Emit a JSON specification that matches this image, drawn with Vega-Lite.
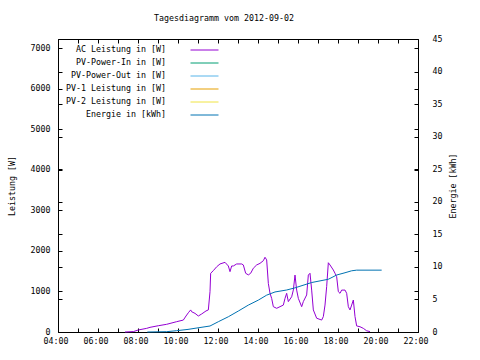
{
  "$schema": "https://vega.github.io/schema/vega-lite/v6.json",
  "width": 360,
  "height": 293,
  "autosize": {"type": "none"},
  "padding": {"left": 58, "top": 39, "right": 62, "bottom": 28},
  "background": "white",
  "title": {"text": "Tagesdiagramm vom 2012-09-02", "font": "DejaVu Sans Mono", "fontSize": 8.3, "fontWeight": "normal", "color": "black", "anchor": "middle", "dx": -14, "offset": 12},
  "config": {
    "font": "DejaVu Sans Mono",
    "view": {"stroke": "black", "strokeWidth": 1},
    "axis": {"domain": false, "tickColor": "black", "labelColor": "black", "titleColor": "black", "labelFont": "DejaVu Sans Mono", "titleFont": "DejaVu Sans Mono", "labelFontSize": 8.3, "titleFontSize": 8.3, "titleFontWeight": "normal", "grid": false, "tickSize": -4, "tickWidth": 1}
  },
  "datasets": {
    "power": [
      {"time": "2012-09-02T07:21", "watt": 0},
      {"time": "2012-09-02T07:46", "watt": 10},
      {"time": "2012-09-02T08:01", "watt": 50},
      {"time": "2012-09-02T08:26", "watt": 90},
      {"time": "2012-09-02T08:36", "watt": 115},
      {"time": "2012-09-02T09:01", "watt": 155},
      {"time": "2012-09-02T09:26", "watt": 190},
      {"time": "2012-09-02T09:56", "watt": 255},
      {"time": "2012-09-02T10:16", "watt": 295},
      {"time": "2012-09-02T10:24", "watt": 395},
      {"time": "2012-09-02T10:31", "watt": 475},
      {"time": "2012-09-02T10:38", "watt": 545},
      {"time": "2012-09-02T10:41", "watt": 500},
      {"time": "2012-09-02T10:51", "watt": 460},
      {"time": "2012-09-02T11:01", "watt": 395},
      {"time": "2012-09-02T11:11", "watt": 445},
      {"time": "2012-09-02T11:24", "watt": 520},
      {"time": "2012-09-02T11:31", "watt": 545},
      {"time": "2012-09-02T11:36", "watt": 995},
      {"time": "2012-09-02T11:38", "watt": 1450},
      {"time": "2012-09-02T11:46", "watt": 1515},
      {"time": "2012-09-02T11:56", "watt": 1610},
      {"time": "2012-09-02T12:06", "watt": 1680},
      {"time": "2012-09-02T12:21", "watt": 1720},
      {"time": "2012-09-02T12:31", "watt": 1630},
      {"time": "2012-09-02T12:36", "watt": 1490},
      {"time": "2012-09-02T12:41", "watt": 1630},
      {"time": "2012-09-02T12:46", "watt": 1630},
      {"time": "2012-09-02T12:56", "watt": 1680},
      {"time": "2012-09-02T13:11", "watt": 1680},
      {"time": "2012-09-02T13:16", "watt": 1655},
      {"time": "2012-09-02T13:23", "watt": 1450},
      {"time": "2012-09-02T13:31", "watt": 1410},
      {"time": "2012-09-02T13:38", "watt": 1450},
      {"time": "2012-09-02T13:46", "watt": 1575},
      {"time": "2012-09-02T13:56", "watt": 1655},
      {"time": "2012-09-02T14:06", "watt": 1695},
      {"time": "2012-09-02T14:16", "watt": 1760},
      {"time": "2012-09-02T14:21", "watt": 1845},
      {"time": "2012-09-02T14:26", "watt": 1780},
      {"time": "2012-09-02T14:31", "watt": 1200},
      {"time": "2012-09-02T14:36", "watt": 955},
      {"time": "2012-09-02T14:41", "watt": 830},
      {"time": "2012-09-02T14:46", "watt": 625},
      {"time": "2012-09-02T14:56", "watt": 585},
      {"time": "2012-09-02T15:06", "watt": 625},
      {"time": "2012-09-02T15:16", "watt": 665},
      {"time": "2012-09-02T15:21", "watt": 830},
      {"time": "2012-09-02T15:26", "watt": 955},
      {"time": "2012-09-02T15:31", "watt": 750},
      {"time": "2012-09-02T15:41", "watt": 870},
      {"time": "2012-09-02T15:46", "watt": 1035},
      {"time": "2012-09-02T15:51", "watt": 1405},
      {"time": "2012-09-02T15:56", "watt": 1035},
      {"time": "2012-09-02T16:01", "watt": 830},
      {"time": "2012-09-02T16:11", "watt": 625},
      {"time": "2012-09-02T16:16", "watt": 750},
      {"time": "2012-09-02T16:26", "watt": 915},
      {"time": "2012-09-02T16:31", "watt": 1405},
      {"time": "2012-09-02T16:36", "watt": 1450},
      {"time": "2012-09-02T16:41", "watt": 1035},
      {"time": "2012-09-02T16:46", "watt": 545},
      {"time": "2012-09-02T16:56", "watt": 340},
      {"time": "2012-09-02T17:11", "watt": 295},
      {"time": "2012-09-02T17:16", "watt": 380},
      {"time": "2012-09-02T17:21", "watt": 665},
      {"time": "2012-09-02T17:26", "watt": 1120},
      {"time": "2012-09-02T17:31", "watt": 1710},
      {"time": "2012-09-02T17:36", "watt": 1655},
      {"time": "2012-09-02T17:46", "watt": 1530},
      {"time": "2012-09-02T17:51", "watt": 1450},
      {"time": "2012-09-02T17:56", "watt": 1365},
      {"time": "2012-09-02T18:01", "watt": 995},
      {"time": "2012-09-02T18:06", "watt": 955},
      {"time": "2012-09-02T18:11", "watt": 1035},
      {"time": "2012-09-02T18:21", "watt": 1035},
      {"time": "2012-09-02T18:26", "watt": 955},
      {"time": "2012-09-02T18:31", "watt": 625},
      {"time": "2012-09-02T18:36", "watt": 545},
      {"time": "2012-09-02T18:41", "watt": 665},
      {"time": "2012-09-02T18:46", "watt": 790},
      {"time": "2012-09-02T18:51", "watt": 380},
      {"time": "2012-09-02T18:56", "watt": 150},
      {"time": "2012-09-02T19:06", "watt": 130},
      {"time": "2012-09-02T19:16", "watt": 90},
      {"time": "2012-09-02T19:26", "watt": 30},
      {"time": "2012-09-02T19:36", "watt": 10}
    ],
    "energy": [
      {"time": "2012-09-02T08:28", "kwh": 0},
      {"time": "2012-09-02T09:26", "kwh": 0.05},
      {"time": "2012-09-02T09:56", "kwh": 0.2},
      {"time": "2012-09-02T10:30", "kwh": 0.4},
      {"time": "2012-09-02T10:51", "kwh": 0.57},
      {"time": "2012-09-02T11:36", "kwh": 0.92},
      {"time": "2012-09-02T12:01", "kwh": 1.58},
      {"time": "2012-09-02T12:31", "kwh": 2.34},
      {"time": "2012-09-02T13:01", "kwh": 3.22},
      {"time": "2012-09-02T13:31", "kwh": 4.13},
      {"time": "2012-09-02T14:01", "kwh": 4.9},
      {"time": "2012-09-02T14:26", "kwh": 5.66},
      {"time": "2012-09-02T14:51", "kwh": 6.15},
      {"time": "2012-09-02T15:26", "kwh": 6.45},
      {"time": "2012-09-02T15:51", "kwh": 6.78},
      {"time": "2012-09-02T16:41", "kwh": 7.6},
      {"time": "2012-09-02T17:06", "kwh": 7.85},
      {"time": "2012-09-02T17:31", "kwh": 8.1},
      {"time": "2012-09-02T17:56", "kwh": 8.75},
      {"time": "2012-09-02T18:21", "kwh": 9.1},
      {"time": "2012-09-02T18:41", "kwh": 9.4},
      {"time": "2012-09-02T18:56", "kwh": 9.5},
      {"time": "2012-09-02T20:11", "kwh": 9.5}
    ]
  },
  "layer": [
    {
      "data": {"name": "power"},
      "mark": {"type": "line", "strokeWidth": 1},
      "encoding": {
        "x": {"field": "time", "type": "temporal",
              "scale": {"domain": [{"year": 2012, "month": 9, "date": 2, "hours": 4}, {"year": 2012, "month": 9, "date": 2, "hours": 22}]},
              "axis": {"orient": "bottom", "title": null, "format": "%H:%M", "labelPadding": 8, "labelOffset": -2.5, "labelFlush": false, "labelOverlap": false,
                       "values": [{"year": 2012, "month": 9, "date": 2, "hours": 4}, {"year": 2012, "month": 9, "date": 2, "hours": 6}, {"year": 2012, "month": 9, "date": 2, "hours": 8}, {"year": 2012, "month": 9, "date": 2, "hours": 10}, {"year": 2012, "month": 9, "date": 2, "hours": 12}, {"year": 2012, "month": 9, "date": 2, "hours": 14}, {"year": 2012, "month": 9, "date": 2, "hours": 16}, {"year": 2012, "month": 9, "date": 2, "hours": 18}, {"year": 2012, "month": 9, "date": 2, "hours": 20}, {"year": 2012, "month": 9, "date": 2, "hours": 22}]}},
        "y": {"field": "watt", "type": "quantitative",
              "scale": {"domain": [0, 7234], "nice": false},
              "axis": {"orient": "left", "values": [0, 1000, 2000, 3000, 4000, 5000, 6000, 7000], "format": "d", "title": "Leistung [W]", "titleAngle": 270, "labelPadding": 12, "titlePadding": 14}},
        "color": {"datum": "AC Leistung in [W]", "type": "nominal",
                  "scale": {"domain": ["AC Leistung in [W]", "PV-Power-In in [W]", "PV-Power-Out in [W]", "PV-1 Leistung in [W]", "PV-2 Leistung in [W]", "Energie in [kWh]"],
                            "range": ["#9400D3", "#009E73", "#56B4E9", "#E69F00", "#F0E442", "#0072B2"]},
                  "legend": {"orient": "none", "legendX": 142, "legendY": 6.5, "title": null, "symbolType": "M-3.5,0H3.5", "symbolSize": 64, "symbolStrokeWidth": 1, "symbolOpacity": 1, "rowPadding": 4, "labelAlign": "right", "labelOffset": -43, "labelFont": "DejaVu Sans Mono", "labelFontSize": 8.3, "labelColor": "black", "padding": 0}}
      }
    },
    {
      "data": {"name": "energy"},
      "mark": {"type": "line", "strokeWidth": 1},
      "encoding": {
        "x": {"field": "time", "type": "temporal",
              "axis": {"orient": "top", "title": null, "labels": false,
                       "values": [{"year": 2012, "month": 9, "date": 2, "hours": 4}, {"year": 2012, "month": 9, "date": 2, "hours": 5}, {"year": 2012, "month": 9, "date": 2, "hours": 6}, {"year": 2012, "month": 9, "date": 2, "hours": 7}, {"year": 2012, "month": 9, "date": 2, "hours": 8}, {"year": 2012, "month": 9, "date": 2, "hours": 9}, {"year": 2012, "month": 9, "date": 2, "hours": 10}, {"year": 2012, "month": 9, "date": 2, "hours": 11}, {"year": 2012, "month": 9, "date": 2, "hours": 12}, {"year": 2012, "month": 9, "date": 2, "hours": 13}, {"year": 2012, "month": 9, "date": 2, "hours": 14}, {"year": 2012, "month": 9, "date": 2, "hours": 15}, {"year": 2012, "month": 9, "date": 2, "hours": 16}, {"year": 2012, "month": 9, "date": 2, "hours": 17}, {"year": 2012, "month": 9, "date": 2, "hours": 18}, {"year": 2012, "month": 9, "date": 2, "hours": 19}, {"year": 2012, "month": 9, "date": 2, "hours": 20}, {"year": 2012, "month": 9, "date": 2, "hours": 21}, {"year": 2012, "month": 9, "date": 2, "hours": 22}]}},
        "y": {"field": "kwh", "type": "quantitative",
              "scale": {"domain": [0, 45], "nice": false},
              "axis": {"orient": "right", "values": [0, 5, 10, 15, 20, 25, 30, 35, 40, 45], "title": "Energie [kWh]", "titleAngle": 270, "labelPadding": 18, "titlePadding": 16}},
        "color": {"datum": "Energie in [kWh]", "type": "nominal"}
      }
    },
    {
      "data": {"name": "power"},
      "mark": {"type": "line", "strokeOpacity": 0},
      "encoding": {
        "x": {"field": "time", "type": "temporal",
              "axis": {"orient": "bottom", "title": null, "labels": false,
                       "values": [{"year": 2012, "month": 9, "date": 2, "hours": 5}, {"year": 2012, "month": 9, "date": 2, "hours": 7}, {"year": 2012, "month": 9, "date": 2, "hours": 9}, {"year": 2012, "month": 9, "date": 2, "hours": 11}, {"year": 2012, "month": 9, "date": 2, "hours": 13}, {"year": 2012, "month": 9, "date": 2, "hours": 15}, {"year": 2012, "month": 9, "date": 2, "hours": 17}, {"year": 2012, "month": 9, "date": 2, "hours": 19}, {"year": 2012, "month": 9, "date": 2, "hours": 21}]}},
        "y": {"field": "watt", "type": "quantitative",
              "scale": {"domain": [0, 7234], "nice": false},
              "axis": {"orient": "right", "values": [0, 1000, 2000, 3000, 4000, 5000, 6000, 7000], "labels": false, "title": null}}
      }
    },
    {
      "data": {"name": "energy"},
      "mark": {"type": "line", "strokeOpacity": 0},
      "encoding": {
        "x": {"field": "time", "type": "temporal", "axis": null},
        "y": {"field": "kwh", "type": "quantitative",
              "scale": {"domain": [0, 45], "nice": false},
              "axis": {"orient": "left", "values": [0, 5, 10, 15, 20, 25, 30, 35, 40, 45], "labels": false, "title": null}}
      }
    }
  ],
  "resolve": {"scale": {"y": "independent"}, "axis": {"x": "independent", "y": "independent"}}
}
